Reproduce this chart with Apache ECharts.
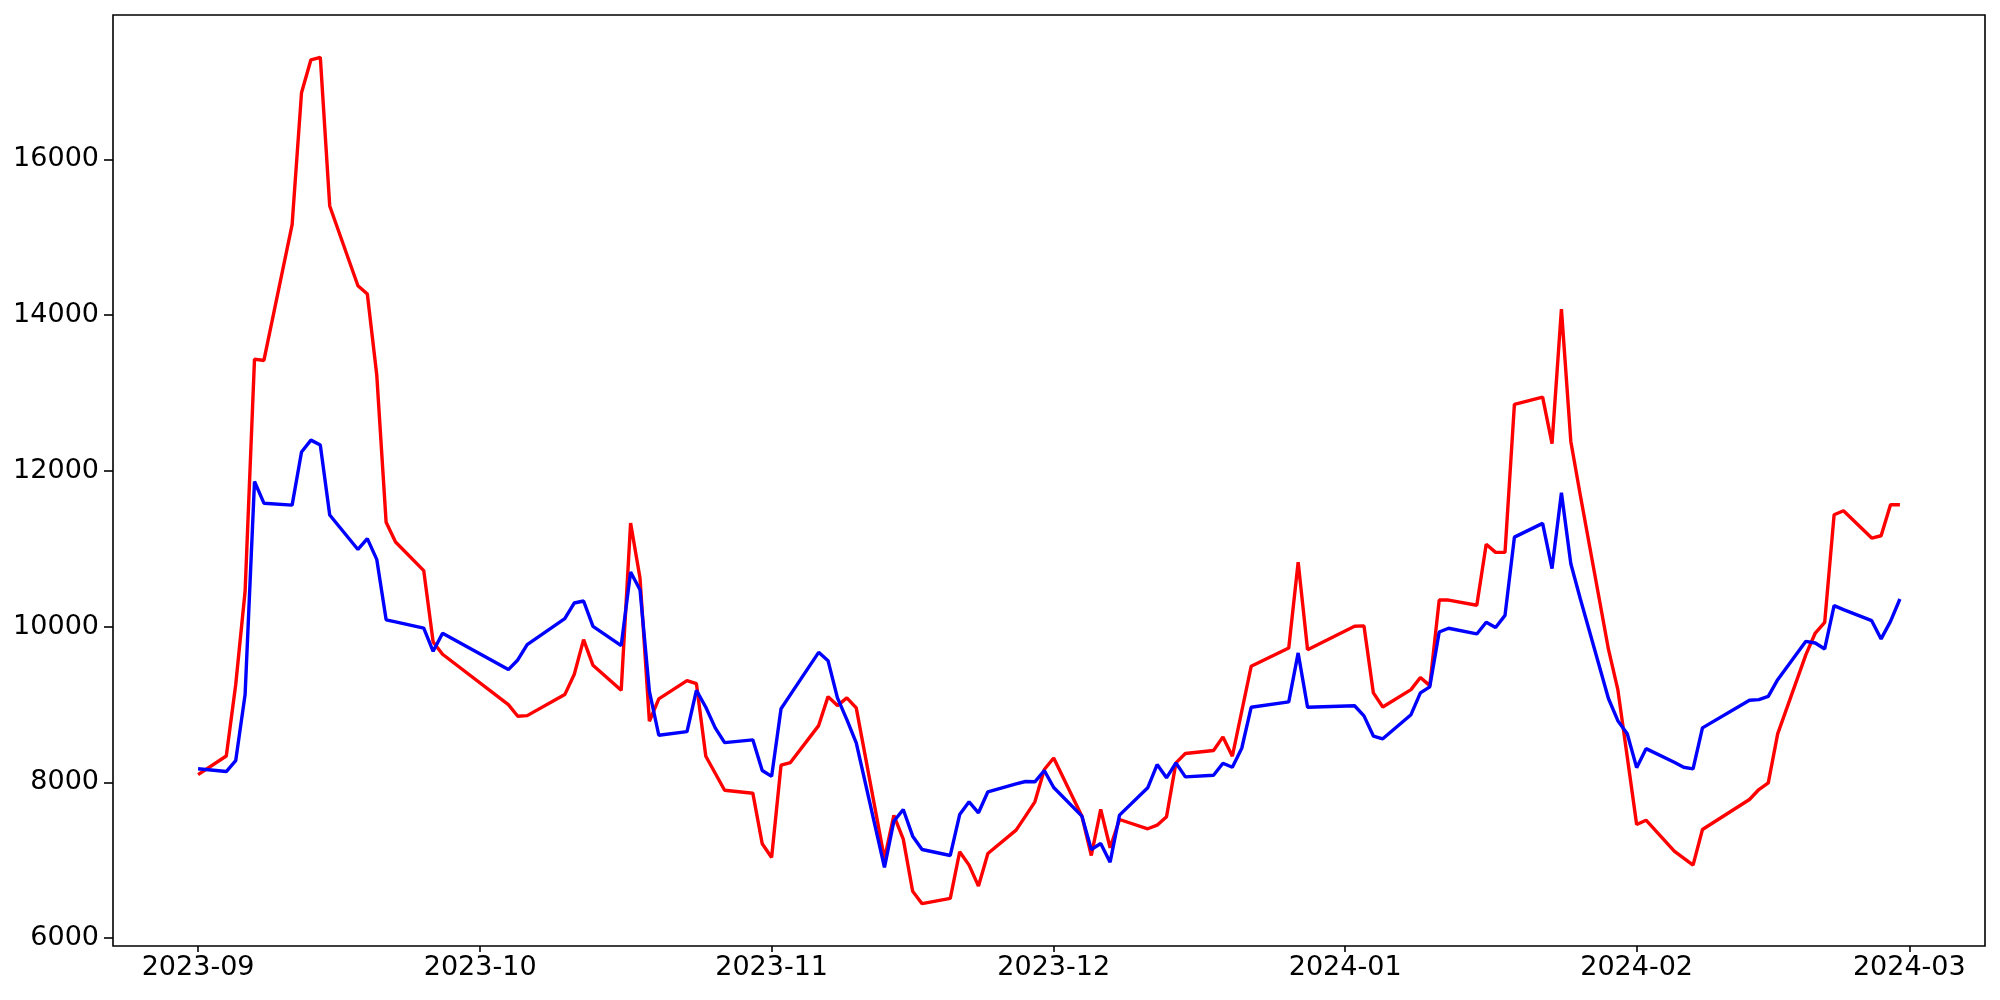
<!DOCTYPE html>
<html>
<head>
<meta charset="utf-8">
<script src="https://cdn.jsdelivr.net/npm/echarts@6/dist/echarts.min.js"></script>
<style>
  html, body { margin: 0; padding: 0; background: #fff; }
  #chart { width: 2000px; height: 1000px; }
</style>
</head>
<body>
<div id="chart"></div>
<script>
// trading days (Sep 2023 - Feb 2024)
const dates = [
  '2023-09-01', '2023-09-04', '2023-09-05', '2023-09-06', '2023-09-07', '2023-09-08',
  '2023-09-11', '2023-09-12', '2023-09-13', '2023-09-14', '2023-09-15',
  '2023-09-18', '2023-09-19', '2023-09-20', '2023-09-21', '2023-09-22',
  '2023-09-25', '2023-09-26', '2023-09-27',
  '2023-10-04', '2023-10-05', '2023-10-06', '2023-10-10', '2023-10-11', '2023-10-12', '2023-10-13',
  '2023-10-16', '2023-10-17', '2023-10-18', '2023-10-19', '2023-10-20',
  '2023-10-23', '2023-10-24', '2023-10-25', '2023-10-26', '2023-10-27', '2023-10-30', '2023-10-31',
  '2023-11-01', '2023-11-02', '2023-11-03', '2023-11-06', '2023-11-07', '2023-11-08', '2023-11-09', '2023-11-10',
  '2023-11-13', '2023-11-14', '2023-11-15', '2023-11-16', '2023-11-17',
  '2023-11-20', '2023-11-21', '2023-11-22', '2023-11-23', '2023-11-24',
  '2023-11-27', '2023-11-28', '2023-11-29', '2023-11-30',
  '2023-12-01', '2023-12-04', '2023-12-05', '2023-12-06', '2023-12-07', '2023-12-08',
  '2023-12-11', '2023-12-12', '2023-12-13', '2023-12-14', '2023-12-15',
  '2023-12-18', '2023-12-19', '2023-12-20', '2023-12-21', '2023-12-22',
  '2023-12-26', '2023-12-27', '2023-12-28',
  '2024-01-02', '2024-01-03', '2024-01-04', '2024-01-05',
  '2024-01-08', '2024-01-09', '2024-01-10', '2024-01-11', '2024-01-12',
  '2024-01-15', '2024-01-16', '2024-01-17', '2024-01-18', '2024-01-19',
  '2024-01-22', '2024-01-23', '2024-01-24', '2024-01-25', '2024-01-26',
  '2024-01-29', '2024-01-30', '2024-01-31',
  '2024-02-01', '2024-02-02', '2024-02-05', '2024-02-06', '2024-02-07', '2024-02-08',
  '2024-02-13', '2024-02-14', '2024-02-15', '2024-02-16',
  '2024-02-19', '2024-02-20', '2024-02-21', '2024-02-22', '2024-02-23',
  '2024-02-26', '2024-02-27', '2024-02-28', '2024-02-29'
]

const redValues = [
  8100, 8340, 9254, 10455, 13437, 13419, 15163, 16857, 17280, 17312, 15403,
  14379, 14273, 13236, 11340, 11087, 10720, 9804, 9646,
  8999, 8850, 8858, 9128, 9385, 9834, 9504, 9183, 11331, 10625, 8786, 9073,
  9308, 9269, 8336, 8118, 7900, 7862, 7212,
  7037, 8221, 8255, 8730, 9102, 8987, 9086, 8957, 7020, 7578, 7272, 6602, 6443,
  6511, 7110, 6938, 6669, 7088, 7387, 7567, 7751, 8166,
  8314, 7567, 7062, 7653, 7161, 7524, 7405, 7451, 7559, 8251, 8371,
  8410, 8585, 8336, 8914, 9491, 9727, 10830, 9705,
  10005, 10010, 9150, 8969, 9192, 9347, 9243, 10342, 10342, 10275, 11058, 10954, 10954, 12855,
  12949, 12352, 14078, 12379, 11694, 9711, 9192, 8330,
  7460, 7515, 7118, 7028, 6938, 7396, 7781, 7909, 7995, 8624,
  9641, 9919, 10056, 11437, 11489, 11138, 11168, 11566, 11566
]

const blueValues = [
  8175, 8140, 8280, 9128, 11865, 11586, 11561, 12243, 12396, 12332, 11435,
  10992, 11131, 10865, 10088, 10063, 9981, 9684, 9917,
  9449, 9573, 9769, 10103, 10304, 10330, 10004, 9757, 10702, 10475, 9170, 8606,
  8653, 9183, 8965, 8701, 8512, 8547, 8153,
  8078, 8946, 9128, 9671, 9564, 9086, 8807, 8508, 6910, 7502, 7653, 7310, 7139,
  7062, 7588, 7751, 7610, 7880, 7982, 8012, 8008, 8153,
  7935, 7567, 7139, 7216, 6976, 7580, 7931, 8230, 8059, 8251, 8072,
  8093, 8247, 8195, 8439, 8965, 9034, 9663, 8965,
  8985, 8855, 8596, 8560, 8870, 9150, 9228, 9932, 9980, 9907, 10057, 9990, 10145, 11150,
  11327, 10746, 11721, 10809, 10362, 9078, 8793, 8625,
  8190, 8434, 8259, 8195, 8175, 8701, 9055, 9064, 9106, 9320,
  9812, 9791, 9714, 10270, 10219, 10077, 9843, 10068, 10356
]

const xTickLabels = ['2023-09', '2023-10', '2023-11', '2023-12', '2024-01', '2024-02', '2024-03']
const yTicks = [6000, 8000, 10000, 12000, 14000, 16000]

function toTime(s) {
  const p = s.split('-').map(Number)
  return Date.UTC(p[0], p[1] - 1, p[2] || 1)
}

const firstT = toTime(dates[0])
const lastT = toTime(dates[dates.length - 1])
const padX = (lastT - firstT) * 0.05

const allVals = redValues.concat(blueValues)
const vMin = Math.min(...allVals)
const vMax = Math.max(...allVals)
const padY = (vMax - vMin) * 0.05

const monthTicks = xTickLabels.map(toTime)
const font = 'DejaVu Sans'

const chart = echarts.init(document.getElementById('chart'), null, { renderer: 'canvas' })

chart.setOption({
  animation: false,
  backgroundColor: '#fff',
  grid: {
    left: 113, right: 15, top: 15, bottom: 54,
    show: true, borderColor: '#000', borderWidth: 1.6,
    outerBoundsMode: 'none',
  },
  xAxis: {
    type: 'value',
    min: firstT - padX,
    max: lastT + padX,
    axisLine: { show: false },
    splitLine: { show: false },
    axisTick: { show: true, length: 6, lineStyle: { color: '#000', width: 1.6 }, customValues: monthTicks },
    axisLabel: {
      customValues: monthTicks,
      margin: 8,
      color: '#000',
      fontFamily: font,
      fontSize: 27,
      formatter: (v) => {
        const i = monthTicks.indexOf(v)
        return i >= 0 ? xTickLabels[i] : ''
      },
    },
  },
  yAxis: {
    type: 'value',
    min: vMin - padY,
    max: vMax + padY,
    axisLine: { show: false },
    splitLine: { show: false },
    axisTick: { show: true, length: 9, lineStyle: { color: '#000', width: 1.6 }, customValues: yTicks },
    axisLabel: {
      customValues: yTicks,
      margin: 14,
      color: '#000',
      fontFamily: font,
      fontSize: 27,
      formatter: (v) => String(v),
    },
  },
  series: [
    {
      type: 'line',
      data: dates.map((d, i) => [toTime(d), redValues[i]]),
      showSymbol: false,
      lineStyle: { color: '#ff0000', width: 3.4 },
      itemStyle: { color: '#ff0000' },
    },
    {
      type: 'line',
      data: dates.map((d, i) => [toTime(d), blueValues[i]]),
      showSymbol: false,
      lineStyle: { color: '#0000ff', width: 3.4 },
      itemStyle: { color: '#0000ff' },
    },
  ],
})
</script>
</body>
</html>
